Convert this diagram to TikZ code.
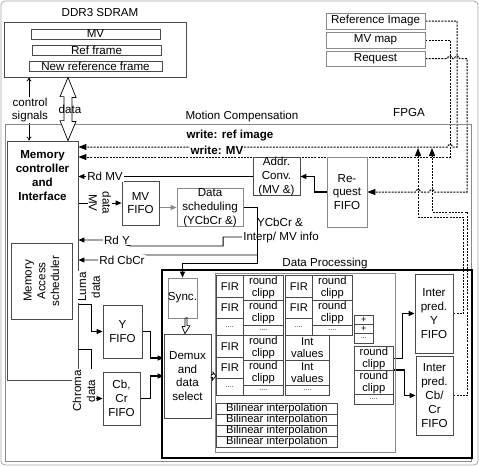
\documentclass[tikz,border=0pt]{standalone}
\usepackage{fontspec}
\setmainfont{Liberation Sans}
\usepackage{tikz}
\usetikzlibrary{arrows.meta,backgrounds}
\definecolor{boxline}{HTML}{4A4A4A}
\definecolor{softline}{HTML}{8A8A8A}
\definecolor{frameline}{HTML}{A8A8A8}
\newcommand{\dfont}{\fontsize{11.6}{13.8}\selectfont}
\newcommand{\cellfont}{\fontsize{11.2}{11.8}\selectfont}
\newcommand{\dotfont}{\fontsize{7}{7}\selectfont}
\tikzset{
    every picture/.style={line cap=butt,line join=miter},
    box/.style={draw=boxline,line width=0.8pt,inner sep=0pt,align=center},
    softbox/.style={box,draw=softline},
    cell/.style={draw=boxline,line width=0.7pt,inner sep=0pt,anchor=north west,align=center,
      font=\cellfont},
    dotcell/.style={cell,font=\dotfont},
    lbl/.style={inner sep=1pt,align=center},
    whitelbl/.style={lbl,fill=white},
    thinarrow/.style={{To[length=4pt,width=5pt]}-{To[length=4pt,width=5pt]},draw=black,line width=0.7pt},
    solidarrow/.style={-{Triangle[length=6pt,width=5pt]},draw=black,line width=0.9pt},
    thickarrow/.style={solidarrow,line width=1.4pt},
    dotarrow/.style={-{Triangle[length=8pt,width=6pt]},draw=black,line width=1pt,
      dash pattern=on 2pt off 1.2pt},
    hollow/.style={draw=black,fill=white,line width=0.7pt}
}

\begin{document}
\begin{tikzpicture}[x=1pt,y=-1pt,font=\dfont]
  \useasboundingbox (0,0) rectangle (479,466);
  \draw[frameline,line width=0.8pt,rounded corners=4pt] (1,1) rectangle (478,465);

  % external memory
  \node[lbl] (ddrlbl) at (100,13) {DDR3 SDRAM};
  \node[box,minimum width=182pt,minimum height=55pt] (sdram) at (95,49.5) {};
  \node[box,minimum width=129pt,minimum height=10pt] (mvmem) at (95.5,34) {MV};
  \node[box,minimum width=129pt,minimum height=10pt] (refmem) at (96.5,50) {Ref frame};
  \node[box,minimum width=133pt,minimum height=10pt] (newmem) at (95.5,66) {New reference frame};

  % host side
  \node[softbox,minimum width=99pt,minimum height=16pt] (refimg) at (375.5,21) {Reference Image};
  \node[softbox,minimum width=99pt,minimum height=16pt] (mvmap) at (375.5,40) {MV map};
  \node[softbox,minimum width=99pt,minimum height=15pt] (reqin) at (375.5,58.5) {Request};

  % motion compensation block
  \node[lbl] (mclbl) at (242,116) {Motion Compensation};
  \node[lbl] (fpgalbl) at (409,113) {FPGA};
  \draw[softline,line width=0.8pt] (5,124) rectangle (471,461);

  \node[box,minimum width=71pt,minimum height=239pt] (memctrl) at (42.5,260.5) {};
  \node[lbl,font=\dfont\bfseries] (memtxt) at (42.5,175.5) {Memory\\controller\\and\\Interface};
  \node[box,rotate=90,minimum width=76pt,minimum height=61pt] (accsched) at (41.5,281) {Memory\\Access\\scheduler};

  \node[box,minimum width=37pt,minimum height=44pt] (mvfifo) at (140.5,203) {MV\\FIFO};
  \node[softbox,minimum width=66pt,minimum height=37pt] (datasched) at (210,207.5) {Data\\scheduling\\(YCbCr \&)};
  \node[box,minimum width=47pt,minimum height=35pt] (addrconv) at (276.5,176.5) {Addr.\\Conv.\\(MV \&)};
  \node[softbox,minimum width=40pt,minimum height=70pt] (reqfifo) at (347,192) {Re-\\quest\\FIFO};
  \node[lbl] (ycbtop) at (280,222) {YCbCr \&};
  \node[lbl] (ycbbot) at (281,237) {Interp/ MV info};

  \node[box,minimum width=39pt,minimum height=53pt] (yfifo) at (122.5,331.5) {Y\\FIFO};
  \node[box,minimum width=37pt,minimum height=53pt] (cbfifo) at (121.5,398.5) {Cb,\\Cr\\FIFO};

  % data processing
  \draw[black,line width=1.3pt] (162,270) rectangle (472,458);
  \node[lbl] (dplbl) at (325,263) {Data Processing};
  \node[softbox,minimum width=29pt,minimum height=40pt] (sync) at (182.5,298) {Sync.};
  \node[box,minimum width=47pt,minimum height=84pt] (demux) at (187.5,376) {Demux\\and\\data\\select};
  \node[softbox,anchor=north west,minimum width=180pt,minimum height=179pt] (grid) at (215,273) {};
  \foreach \g/\gx/\gy in {a/216/275,b/285/275,c/216/335} {
    \node[cell,minimum width=27pt,minimum height=22pt] (fir\g1) at (\gx,\gy) {FIR};
    \node[cell,minimum width=27pt,minimum height=21pt] (fir\g2) at (\gx,\gy+22) {FIR};
    \node[dotcell,minimum width=27pt,minimum height=17pt] (fir\g3) at (\gx,\gy+43) {....};
    \node[cell,minimum width=40pt,minimum height=25pt] (rc\g1) at (\gx+27,\gy) {round\\clipp};
    \node[cell,minimum width=40pt,minimum height=25pt] (rc\g2) at (\gx+27,\gy+25) {round\\clipp};
    \node[dotcell,minimum width=40pt,minimum height=10pt] (rc\g3) at (\gx+27,\gy+50) {....};
  }
  \node[cell,minimum width=44pt,minimum height=25pt] (iv1) at (285,335) {Int\\values};
  \node[cell,minimum width=44pt,minimum height=25pt] (iv2) at (285,360) {Int\\values};
  \node[dotcell,minimum width=44pt,minimum height=10pt] (iv3) at (285,385) {....};
  \node[cell,minimum width=19pt,minimum height=9pt,font=\fontsize{9}{9}\selectfont] (p1) at (354,315) {+};
  \node[cell,minimum width=19pt,minimum height=9pt,font=\fontsize{9}{9}\selectfont] (p2) at (354,324) {+};
  \node[dotcell,minimum width=19pt,minimum height=10pt] (p3) at (354,333) {...};
  \node[cell,minimum width=39pt,minimum height=24pt] (rce1) at (354,346) {round\\clipp};
  \node[cell,minimum width=39pt,minimum height=24pt] (rce2) at (354,370) {round\\clipp};
  \node[dotcell,minimum width=39pt,minimum height=10pt] (rce3) at (354,394) {....};
  \foreach \i in {0,...,3}
    \node[cell,minimum width=121pt,minimum height=11pt] (bil\i) at (216,403+11*\i) {Bilinear interpolation};
  \node[box,minimum width=38pt,minimum height=79pt] (ipy) at (434,313.5) {Inter\\pred.\\Y\\FIFO};
  \node[box,minimum width=37pt,minimum height=79pt] (ipc) at (434.5,395.5) {Inter\\pred.\\Cb/\\Cr\\FIFO};

  % routing points
  \coordinate (ctrl) at (29,0);
  \coordinate (dat) at (68,0);
  \coordinate (wref) at (457,147);
  \coordinate (wmv) at (450,157);
  \coordinate (rq) at (467,192);
  \coordinate (upy) at (418,217);
  \coordinate (upc) at (432,212);
  \coordinate (jct) at (257,255);
  \coordinate (luma) at (91,304);
  \coordinate (chroma) at (91,349);
  \coordinate (sa) at (185,0);
  \coordinate (dgtip) at (216,376);

  % labels over the lines
  \node[whitelbl] (ctrllbl) at (30,110) {control\\signals};
  \node[whitelbl,font=\dfont\bfseries] (wreflbl) at (230,136) {write: ref image};
  \node[whitelbl,font=\dfont\bfseries,inner sep=0.5pt] (wmvlbl) at (217,150.5) {write: MV};
  \node[whitelbl] (rdmv) at (105,176.5) {Rd MV};
  \node[whitelbl,rotate=-90] (mvdata) at (100,203) {data\\MV};
  \node[whitelbl] (rdy) at (117,240) {Rd Y};
  \node[whitelbl] (rdcbcr) at (122,260) {Rd CbCr};
  \node[whitelbl,rotate=90] (lumalbl) at (89,287) {Luma\\data};
  \node[whitelbl,rotate=90] (chromalbl) at (84,391) {Chroma\\data};

  \begin{scope}[on background layer]
    \draw[thinarrow] (sdram.south -| ctrl) -- (memctrl.north -| ctrl);
    % host links
    \draw[dotarrow] (refimg.east) -| (wref) -- ([xshift=2.5pt]wmv |- wref)
      arc[start angle=0,end angle=180,radius=2.5pt] -- (memctrl.east |- wref);
    \draw[dotarrow] (mvmap.east) -| (wmv) -- (memctrl.east |- wmv);
    \draw[dotarrow] (reqin.east) -- ([xshift=-2.5pt]wmv |- reqin.east)
      arc[start angle=180,end angle=0,radius=2.5pt] -- ([xshift=-2.5pt]wref |- reqin.east)
      arc[start angle=180,end angle=0,radius=2.5pt] -| (rq)
      -- ([xshift=2.5pt]upc |- rq) arc[start angle=0,end angle=180,radius=2.5pt]
      -- ([xshift=2.5pt]upy |- rq) arc[start angle=0,end angle=180,radius=2.5pt]
      -- (reqfifo.east);
    \draw[dotarrow] (ipy.east) -- ++(10,0) |- (upy) -- ([yshift=-1pt]upy |- wref);
    \draw[dotarrow] (ipc.east) -- ++(14,0) |- (upc) -- ([yshift=-1pt]upc |- wref);
    % read side
    \draw[thickarrow] (reqfifo.west) -- ++(-12,0) |- (addrconv.east);
    \draw[solidarrow] (addrconv.west) -- (memctrl.east |- addrconv.west);
    \draw[solidarrow] (memctrl.east |- mvfifo.west) -- (mvfifo.west);
    \draw[solidarrow,draw=softline] (mvfifo.east |- datasched.west) -- (datasched.west);
    \draw[solidarrow] (datasched.east) -| ([yshift=-8pt]jct) -| (sync.north);
    \draw[solidarrow] (jct) -- (jct -| rdcbcr.east) -- (rdcbcr.west) -- (memctrl.east |- rdcbcr.west);
    \draw[solidarrow] (ycbbot.west) -- ++(-19,0) |- ([yshift=-6pt]rdy.east) -- (rdy.west)
      -- (memctrl.east |- rdy.west);
    \draw[solidarrow] (luma -| memctrl.east) -- (luma) |- (yfifo.west);
    \draw[solidarrow] (chroma -| memctrl.east) -- (chroma) |- (cbfifo.west);
    \draw[thickarrow] (yfifo.east) -- ++(8,0) |- ([yshift=18pt]demux.west);
    \draw[thickarrow] (cbfifo.east) -- ++(10,0) |- (demux.west);
    \draw[thickarrow] (rce1.east) -- ++(9,0) |- (ipy.west);
    \draw[thickarrow] (rce2.north east) -- ++(11,0) |- (ipc.west);
  \end{scope}

  % wide data paths
  \draw[hollow] (sdram.south -| dat) -- ++(8,20) -- ++(-4,0) -- ++(0,24) -- ++(4,0)
    -- (memctrl.north -| dat) -- ++(-8,-20) -- ++(4,0) -- ++(0,-24) -- ++(-4,0) -- cycle;
  \node[lbl] (datalbl) at (70,109) {data};
  \draw[hollow] (sync.south -| sa) -- ++(0,8) -- ++(-3,0) -- (demux.north -| sa)
    -- ++(5,-8) -- ++(-3,0) -- ++(0,-8) -- cycle;
  \draw[hollow] ([yshift=1.5pt]demux.east) -- ++(1.5,0) -- ++(0,-2.5) -- (dgtip)
    -- ++(-3.5,4) -- ++(0,-2.5) -- ++(-1.5,0) -- cycle;
\end{tikzpicture}
\end{document}
